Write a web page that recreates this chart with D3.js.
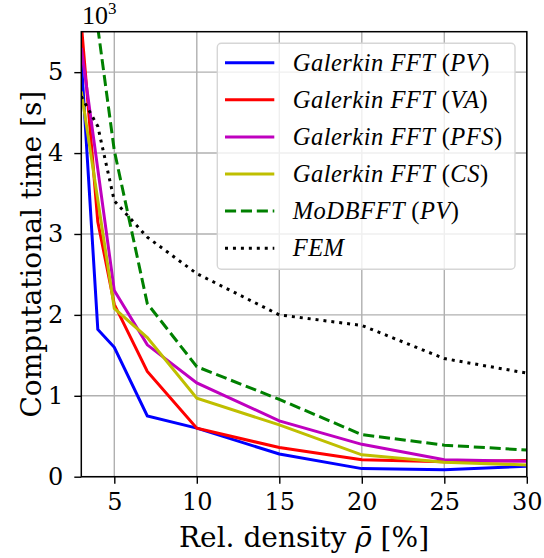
<!DOCTYPE html>
<html>
<head>
<meta charset="utf-8">
<script src="https://cdn.jsdelivr.net/npm/d3@7/dist/d3.min.js"></script>
<style>
  html, body { margin: 0; padding: 0; background: #fff; }
  svg { display: block; }
  .tick text { font-family: "DejaVu Serif", serif; font-size: 24px; fill: #000; }
  .grid line { stroke: #b0b0b0; stroke-width: 1.4; }
  .leg-text { font-family: "Liberation Serif", serif; font-size: 24.5px; letter-spacing: 0.5px; }
</style>
</head>
<body>
<div id="chart"></div>
<script>
// values are in units of 10^3 s
const xGalerkinPV = [3, 4, 5, 7, 10, 15, 20, 25, 30];
const yGalerkinPV = [5.15, 1.82, 1.60, 0.75, 0.60, 0.28, 0.10, 0.085, 0.13];

const xGalerkinVA = [3, 4, 5, 7, 10, 15, 20, 25, 30];
const yGalerkinVA = [5.6, 3.15, 2.13, 1.30, 0.60, 0.36, 0.21, 0.185, 0.20];

const xGalerkinPFS = [3, 5, 7, 10, 15, 20, 25, 30];
const yGalerkinPFS = [5.3, 2.30, 1.63, 1.16, 0.69, 0.40, 0.21, 0.19];

const xGalerkinCS = [3, 5, 7, 10, 15, 20, 25, 30];
const yGalerkinCS = [4.76, 2.08, 1.72, 0.97, 0.64, 0.27, 0.18, 0.145];

const xMoDBFFT = [4, 5, 7, 10, 15, 20, 25, 30];
const yMoDBFFT = [5.55, 4.03, 2.14, 1.36, 0.955, 0.52, 0.39, 0.33];

const xFEM = [3, 4, 5, 7, 10, 15, 20, 25, 30];
const yFEM = [4.70, 4.33, 3.41, 2.96, 2.51, 2.00, 1.87, 1.46, 1.28];

const xTicks = [5, 10, 15, 20, 25, 30];
const yTicks = [0, 1, 2, 3, 4, 5];

// legend label parts: [text, italic?]
const series = [
  { xs: xGalerkinPV, ys: yGalerkinPV, color: "#0000ff", dash: null,
    label: [["Galerkin FFT ", true], ["(", false], ["PV", true], [")", false]] },
  { xs: xGalerkinVA, ys: yGalerkinVA, color: "#ff0000", dash: null,
    label: [["Galerkin FFT ", true], ["(", false], ["VA", true], [")", false]] },
  { xs: xGalerkinPFS, ys: yGalerkinPFS, color: "#bf00bf", dash: null,
    label: [["Galerkin FFT ", true], ["(", false], ["PFS", true], [")", false]] },
  { xs: xGalerkinCS, ys: yGalerkinCS, color: "#bfbf00", dash: null,
    label: [["Galerkin FFT ", true], ["(", false], ["CS", true], [")", false]] },
  { xs: xMoDBFFT, ys: yMoDBFFT, color: "#008000", dash: "11.1,4.8",
    label: [["MoDBFFT ", true], ["(", false], ["PV", true], [")", false]] },
  { xs: xFEM, ys: yFEM, color: "#000000", dash: "3,4.95",
    label: [["FEM", true]] }
];

const W = 544, H = 558;
const margin = { left: 81.3, right: W - 526.8, top: 31.7, bottom: H - 476.7 };
const iw = W - margin.left - margin.right;
const ih = H - margin.top - margin.bottom;

const svg = d3.select("#chart").append("svg")
  .attr("width", W)
  .attr("height", H);

const g = svg.append("g").attr("transform", `translate(${margin.left},${margin.top})`);

const x = d3.scaleLinear().domain([3, 30]).range([0, iw]);
const y = d3.scaleLinear().domain([0, 5.5]).range([ih, 0]);

// grid
g.append("g").attr("class", "grid")
  .selectAll("line").data(xTicks).enter().append("line")
  .attr("x1", d => x(d)).attr("x2", d => x(d))
  .attr("y1", 0).attr("y2", ih);
g.append("g").attr("class", "grid")
  .selectAll("line").data(yTicks).enter().append("line")
  .attr("x1", 0).attr("x2", iw)
  .attr("y1", d => y(d)).attr("y2", d => y(d));

// lines
svg.append("defs").append("clipPath").attr("id", "clip")
  .append("rect").attr("width", iw).attr("height", ih);

const line = d3.line().x(d => x(d[0])).y(d => y(d[1]));

g.append("g").attr("clip-path", "url(#clip)")
  .selectAll("path").data(series).enter().append("path")
  .attr("d", s => line(s.xs.map((v, i) => [v, s.ys[i]])))
  .attr("fill", "none")
  .attr("stroke", s => s.color)
  .attr("stroke-width", 3)
  .attr("stroke-dasharray", s => s.dash);

// axes
const xAxis = g.append("g").attr("transform", `translate(0,${ih})`)
  .call(d3.axisBottom(x).tickValues(xTicks).tickFormat(d3.format("d")).tickSize(7).tickPadding(9));
const yAxis = g.append("g")
  .call(d3.axisLeft(y).tickValues(yTicks).tickFormat(d3.format("d")).tickSize(7).tickPadding(11));
[xAxis, yAxis].forEach(a => {
  a.select(".domain").remove();
  a.selectAll(".tick line").attr("stroke", "#000").attr("stroke-width", 1.4);
});

// frame
g.append("rect")
  .attr("width", iw).attr("height", ih)
  .attr("fill", "none").attr("stroke", "#000").attr("stroke-width", 1.5);

// offset label 10^3
const off = svg.append("text")
  .attr("x", 82).attr("y", 24)
  .style("font-family", "'Liberation Serif', serif")
  .style("font-size", "26px");
off.append("tspan").text("10");
off.append("tspan").attr("dy", -10).style("font-size", "17px").text("3");

// axis labels
const xl = svg.append("text")
  .attr("x", margin.left + iw / 2).attr("y", 547)
  .attr("text-anchor", "middle")
  .style("font-family", "'DejaVu Serif', serif")
  .style("font-size", "28px");
xl.append("tspan").text("Rel. density ");
xl.append("tspan").style("font-style", "italic").text("\u03C1\u0304");
xl.append("tspan").text(" [%]");

svg.append("text")
  .attr("transform", `translate(41,${margin.top + ih / 2}) rotate(-90)`)
  .attr("text-anchor", "middle")
  .style("font-family", "'DejaVu Serif', serif")
  .style("font-size", "28px")
  .text("Computational time [s]");

// legend
const leg = svg.append("g").attr("transform", "translate(217.3,43.3)");
leg.append("rect")
  .attr("width", 297.7).attr("height", 226)
  .attr("rx", 4)
  .attr("fill", "#fff").attr("fill-opacity", 0.8)
  .attr("stroke", "#d6d6d6").attr("stroke-width", 1.4);

const rows = leg.selectAll(".row").data(series).enter().append("g")
  .attr("transform", (d, i) => `translate(0,${19.4 + i * 37.1})`);
rows.append("line")
  .attr("x1", 7.7).attr("x2", 57)
  .attr("stroke", d => d.color).attr("stroke-width", 3)
  .attr("stroke-dasharray", d => d.dash);
const lt = rows.append("text").attr("class", "leg-text")
  .attr("x", 75.4).attr("y", 8);
lt.each(function (d) {
  const t = d3.select(this);
  d.label.forEach(p => {
    t.append("tspan").style("font-style", p[1] ? "italic" : "normal").text(p[0]);
  });
});
</script>
</body>
</html>
